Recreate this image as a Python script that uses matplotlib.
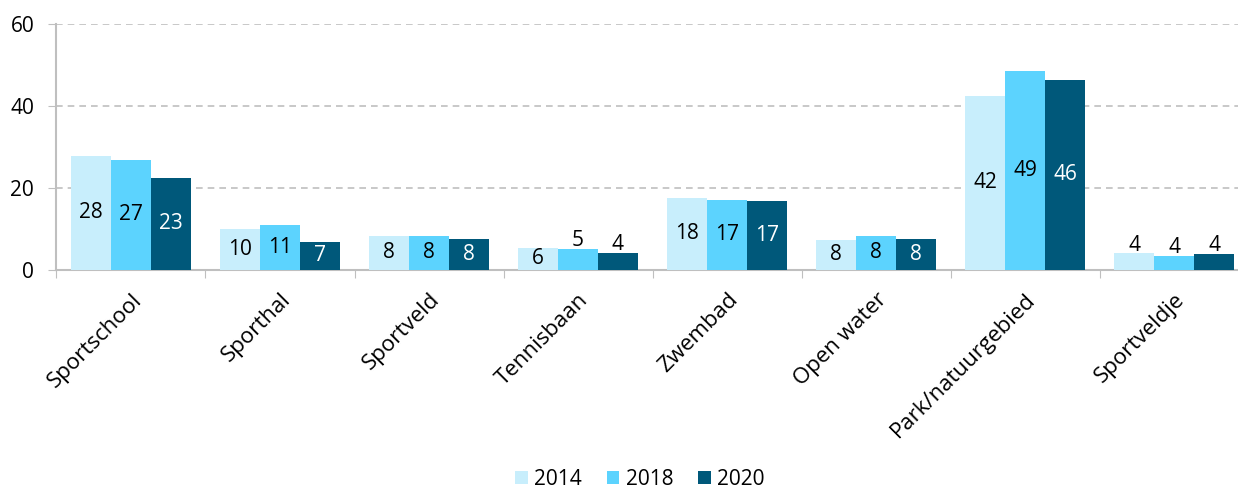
import matplotlib
matplotlib.use("Agg")
import matplotlib.pyplot as plt
import numpy as np

categories = ["Sportschool", "Sporthal", "Sportveld", "Tennisbaan", "Zwembad",
              "Open water", "Park/natuurgebied", "Sportveldje"]
years = ["2014", "2018", "2020"]
v2014 = [27.8, 10.0, 8.3, 5.4, 17.6, 7.4, 42.4, 4.1]
v2018 = [26.8, 11.0, 8.3, 5.1, 17.1, 8.3, 48.5, 3.5]
v2020 = [22.5, 6.8, 7.6, 4.2, 16.8, 7.6, 46.3, 3.9]
labels2014 = ["28", "10", "8", "6", "18", "8", "42", "4"]
labels2018 = ["27", "11", "8", "5", "17", "8", "49", "4"]
labels2020 = ["23", "7", "8", "4", "17", "8", "46", "4"]
yticks = [0, 20, 40, 60]

colors = ["#C8EEFC", "#5CD3FE", "#00587A"]
txtcol = ["black", "black", "white"]

plt.rcParams['font.family'] = ['Open Sans', 'DejaVu Sans']
FS = 15

fig = plt.figure(figsize=(12.38, 4.88), dpi=100)
ax = fig.add_axes([0.0456, 0.447, 0.963, 0.504])

x = np.arange(len(categories))
w = 0.268
series = [v2014, v2018, v2020]
labs = [labels2014, labels2018, labels2020]
for i, (vals, lab) in enumerate(zip(series, labs)):
    pos = x + (i - 1) * w
    ax.bar(pos, vals, width=w, color=colors[i], label=years[i], zorder=3,
           edgecolor='none')
    for p, v, t in zip(pos, vals, lab):
        if v < 5.2:
            ax.text(p, v - 0.6, t, ha='center', va='bottom', fontsize=FS,
                    color='black', zorder=4)
        else:
            ax.text(p, v / 2, t, ha='center', va='center', fontsize=FS,
                    color=txtcol[i], zorder=4)

ax.set_xlim(-0.5, len(categories) - 0.5)
ax.set_ylim(0, 60)
ax.set_yticks(yticks)
ax.set_yticklabels([str(t) for t in yticks], fontsize=FS)
ax.set_xticks(np.arange(len(categories) + 1) - 0.5, minor=False)
ax.set_xticklabels([])
ax.set_xticks(x, minor=True)
ax.set_xticklabels(categories, minor=True, rotation=45, ha='right', va='top',
                   rotation_mode='anchor', fontsize=16)
ax.tick_params(axis='x', which='minor', length=0, pad=14)
ax.tick_params(axis='x', which='major', length=6, color='#BFBFBF', direction='out')
ax.tick_params(axis='y', length=6, color='#BFBFBF', direction='out', pad=10)

for yv in yticks[1:]:
    ax.axhline(yv, color='#BFBFBF', linestyle=(0, (4, 3)), linewidth=1.2, zorder=1)

for s in ['top', 'right']:
    ax.spines[s].set_visible(False)
for s in ['left', 'bottom']:
    ax.spines[s].set_color('#BFBFBF')
    ax.spines[s].set_linewidth(1.5)

leg = fig.legend(loc='center', bbox_to_anchor=(0.517, 0.018), ncol=3, frameon=False,
                 fontsize=FS, handlelength=0.6, handleheight=0.6, handletextpad=0.3,
                 columnspacing=1.2)

fig.savefig("out.png", dpi=100)
